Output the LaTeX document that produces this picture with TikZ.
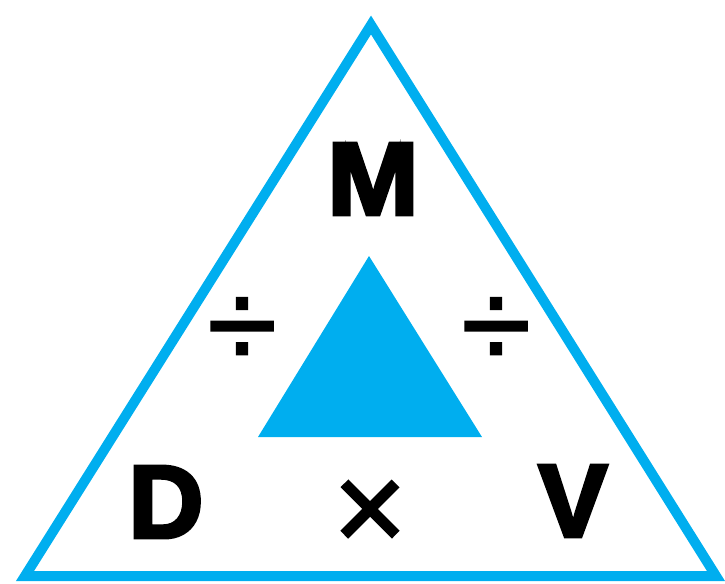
\documentclass[tikz,border=0pt]{standalone}
\usepackage{fontspec}
\setmainfont{Liberation Sans}[BoldFeatures={FakeBold=3.5}]
\newfontfamily\signfont{Liberation Sans}[FakeBold=1.6]
\usetikzlibrary{calc}
\definecolor{skyblue}{HTML}{00AEEF}

\begin{document}
\begin{tikzpicture}[
 x=0.02cm,y=-0.02cm,
 every node/.style={align=center,inner sep=0pt,text=black},
 letter/.style={font=\fontsize{59}{60}\selectfont\bfseries},
 opsign/.style={font=\fontsize{72}{74}\selectfont\signfont},
 rim/.style={draw=skyblue,line width=10*0.02cm,line join=miter}]
\useasboundingbox (0,0) rectangle (725,583);
% outer triangle
\coordinate (otop) at (371,25);
\coordinate (oleft) at (25,576);
\coordinate (oright) at (716,576);
\draw[rim] (otop) -- (oleft) -- (oright) -- cycle;
% inner triangle
\coordinate (itop) at (369,256);
\coordinate (ileft) at (258,437);
\coordinate (iright) at (482,437);
\fill[skyblue] (itop) -- (ileft) -- (iright) -- cycle;
% letters and signs
\node[letter,xscale=1.06] (mass) at (373,179) {M};
\node[letter] (dens) at (166,502) {D};
\node[letter] (vol) at (573,501) {V};
\node[opsign] (times) at (370,516) {×};
\node[opsign] (divl) at (242,333) {÷};
\node[opsign] (divr) at (496,333) {÷};
\end{tikzpicture}
\end{document}
